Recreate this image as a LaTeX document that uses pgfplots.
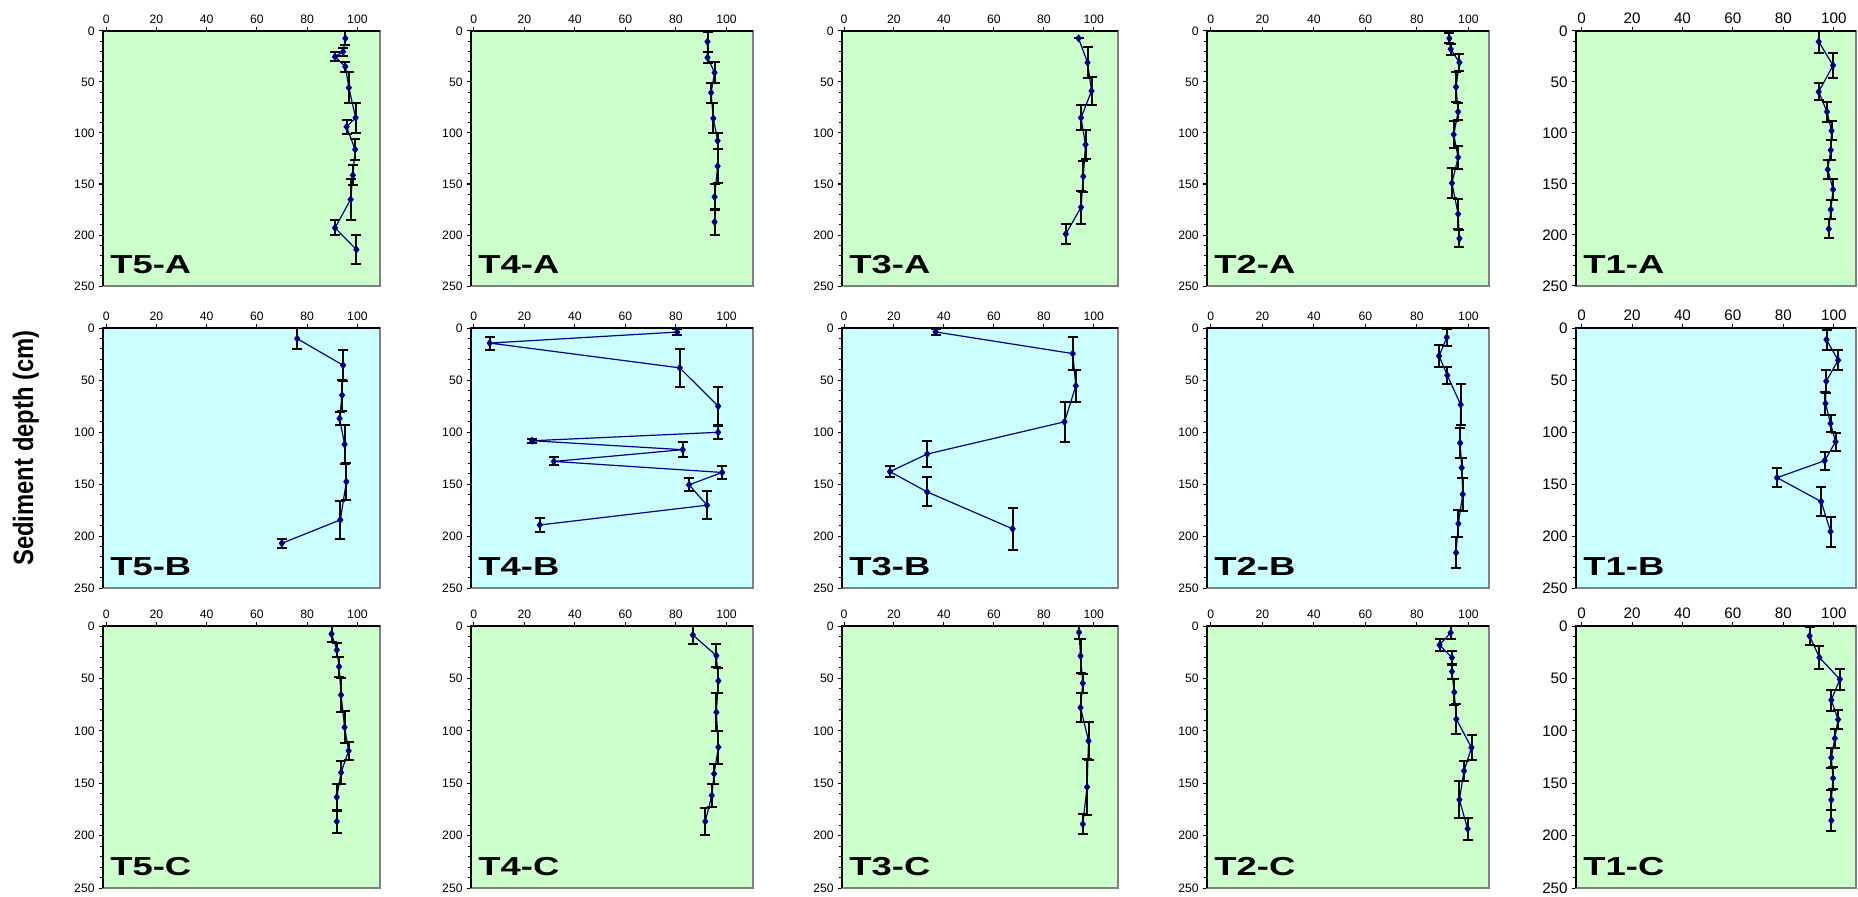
\documentclass[border=0pt]{standalone}
\usepackage{fontspec}
\setmainfont{Liberation Sans}
\usepackage{pgfplots}
\usepackage{pgfplotstable}
\pgfplotsset{compat=1.18}
\definecolor{pgreen}{HTML}{CCFFCC}
\definecolor{pcyan}{HTML}{CCFFFF}
\definecolor{navy}{HTML}{000080}

\pgfplotstableread{
x y e
95.2 7.2 7
94.3 20.3 4
91.1 25.2 4.5
95.2 35 5
96.6 55.6 15
99.3 85 14.7
95.7 93.9 7
99.1 116.2 10
98.2 141.4 10
97.3 165.2 20
91.1 193 7.4
99.6 214.3 14
}\TfiveA
\pgfplotstableread{
x y e
92.5 10.5 10
92.5 25.9 5.7
95.3 40.9 10.2
93.9 60.5 9.8
94.8 85.7 14.7
96.5 107.7 7.7
96.5 132.5 17
95.3 162.6 12.4
95.3 187.2 12.6
}\TfourA
\pgfplotstableread{
x y e
93.9 7.2 0
97.5 30.9 15.6
99.1 58.8 13.6
94.9 85.1 12.3
96.7 111.4 14
95.8 142.6 15
94.9 172.8 16
88.8 199 10
}\TthreeA
\pgfplotstableread{
x y e
92.6 7.2 5
93.1 17.7 5.4
96.5 30.9 8.7
95.2 54.9 15
96.0 79.2 8.5
94.3 101.5 12.8
96.0 123.9 11
93.6 149.1 15
96.0 179.4 14.8
96.5 203.4 8.7
}\TtwoA
\pgfplotstableread{
x y e
94 10.5 10.6
99.7 33.7 12.2
94 59.6 8.5
97.3 79.2 9.8
99.1 97.8 9.5
98.8 116.8 10
97.6 135.8 9
99.7 155.4 10.3
98.8 175 9.8
98 194 9.3
}\ToneA
\pgfplotstableread{
x y e
76 10.2 10
94.3 35.8 15
93.9 64.6 15
92.9 87 6
94.9 111.9 18.5
95.6 147.7 18
93.2 184.5 18
69.9 207 4.5
}\TfiveB
\pgfplotstableread{
x y e
80.5 3.9 3
6.3 14.5 6.3
81.5 38.3 18.5
96.7 75.2 18.5
96.7 100.3 6
23.1 108.4 2
82.7 117 7.3
31.7 128.3 3.8
98.3 138.9 6
85.2 150.8 6.3
92.3 170.4 13.3
26.1 189.4 7
}\TfourB
\pgfplotstableread{
x y e
36.7 3.8 3.2
91.6 24.6 15.5
92.8 55.6 15.6
88.3 90.2 19.2
33.3 121.2 12.5
18.4 138.1 5
33.3 157.6 14
67.5 193.1 20.3
}\TthreeB
\pgfplotstableread{
x y e
91.6 9 8
88.6 26.9 10.4
91.8 45.5 8.3
97.0 73.7 19.7
96.8 110.6 14
97.4 134.3 9.6
97.8 159.9 15.7
96.1 188.1 13
95.2 216 15.2
}\TtwoB
\pgfplotstableread{
x y e
97.1 11.2 9.6
101.7 31 9.6
97 51.2 10.9
96.7 72.6 11.5
98.7 91.8 8
100.7 109.3 8.8
96.4 127.6 8.5
77.5 143.9 9.1
95 166.9 13.9
98.7 195.7 14.4
}\ToneB
\pgfplotstableread{
x y e
89.7 7.6 8
91.8 22.9 6.8
92.7 38.8 9.5
93.5 65.8 16
94.9 96.6 15.4
96.5 119.1 8.8
93.5 139.8 10.6
91.8 163.3 12.8
91.8 186.5 11
}\TfiveC
\pgfplotstableread{
x y e
86.7 8.6 9
96 28.3 10.8
96.8 52.4 11.9
96 82.3 18.3
96.8 115.6 15.7
95.1 141 9.5
94.2 161.7 11.3
91.6 186.5 12.6
}\TfourC
\pgfplotstableread{
x y e
94.1 6 6
94.7 28.6 16.4
95.6 54.6 9.2
94.7 77.8 13.5
97.9 109.6 18.1
97.3 153.7 26.7
95.6 189 9.6
}\TthreeC
\pgfplotstableread{
x y e
93.1 6.4 6.2
88.8 18.1 6
93.6 30.2 6.3
93.6 43.5 6.6
94.5 63.2 12.4
95.3 88.9 14.3
101.2 116 12.2
98.3 138.2 9.5
96.5 165.8 17.6
99.7 193.5 10.6
}\TtwoC
\pgfplotstableread{
x y e
90.4 9.5 8.7
94.3 30.1 10.8
102.4 50.8 9.8
99 70.7 10
101.7 89.2 8.6
100.4 107.2 8.9
99 125.6 9.5
99.7 145.3 10.3
99 165.9 9.5
99 185.6 10.3
}\ToneC

\pgfplotsset{
  panel/.style={
    scale only axis, anchor=north west,
    ymin=0, ymax=250, y dir=reverse,
    xtick={0,20,40,60,80,100},
    ytick={0,50,100,150,200,250},
    minor ytick={10,20,30,40,60,70,80,90,110,120,130,140,160,170,180,190,210,220,230,240},
    tick align=outside,
    xtick pos=upper, xticklabel pos=upper,
    ytick pos=left, yticklabel pos=left,
    major tick length=2pt, minor tick length=1.3pt,
    tick style={black, line width=0.5pt},
    axis line style={draw=gray, line width=0.6pt},
    /pgf/number format/assume math mode=true,
    tick label style={font=\fontsize{6.1}{6.5}\selectfont},
    xticklabel style={inner sep=1.5pt},
    yticklabel style={inner sep=2pt},
    after end axis/.code={\draw[line width=1.1pt, black] (axis description cs:0,0) -- (axis description cs:0,1) -- (axis description cs:1,1);},
  },
  bigticks/.style={tick label style={font=\fontsize{7.6}{8}\selectfont}},
}

\newcommand{\panel}[9]{%
\begin{axis}[panel, at={(#1pt,#2pt)}, width=#3pt, height=#4pt,
  axis background/.style={fill=#5}, #8, #9]
\addplot[navy, line width=0.6pt, mark=diamond*, mark size=1.6pt,
  mark options={fill=navy, draw=navy},
  error bars/.cd, y dir=both, y explicit,
  error bar style={black, line width=1pt},
  error mark options={black, line width=1pt, mark size=2.5pt, rotate=90}]
  table[x=x, y=y, y error=e] {#7};
\node[anchor=base west, inner sep=0pt, font=\bfseries\fontsize{13}{13}\selectfont]
  at (axis description cs:0,0) [xshift=3.5pt, yshift=6.3pt] {\scalebox{1.4}[1]{#6}};
\end{axis}}

\begin{document}
\begin{tikzpicture}
\useasboundingbox (0,0) rectangle (929pt,448pt);
% row 1
\panel{51.5}{432.5}{138.5}{127.5}{pgreen}{T5-A}{\TfiveA}{xmin=-1.3,xmax=109}{}
\panel{235.5}{432.5}{141}{127.5}{pgreen}{T4-A}{\TfourA}{xmin=-1.1,xmax=110.5}{}
\panel{421}{432.5}{138}{127.5}{pgreen}{T3-A}{\TthreeA}{xmin=-0.8,xmax=109.7}{}
\panel{603.5}{432.5}{141}{127.5}{pgreen}{T2-A}{\TtwoA}{xmin=-1.5,xmax=108}{}
\panel{788}{432.5}{140}{127.5}{pgreen}{T1-A}{\ToneA}{xmin=-2.2,xmax=108.8}{bigticks}
% row 2
\panel{51.5}{284}{138.5}{130}{pcyan}{T5-B}{\TfiveB}{xmin=-1.3,xmax=109}{}
\panel{235.5}{284}{141}{130}{pcyan}{T4-B}{\TfourB}{xmin=-1.1,xmax=110.5}{}
\panel{421}{284}{138}{130}{pcyan}{T3-B}{\TthreeB}{xmin=-0.8,xmax=109.7}{}
\panel{603.5}{284}{141}{130}{pcyan}{T2-B}{\TtwoB}{xmin=-1.5,xmax=108}{}
\panel{788}{284}{140}{130}{pcyan}{T1-B}{\ToneB}{xmin=-2.2,xmax=108.8}{bigticks}
% row 3
\panel{51.5}{135}{138.5}{131}{pgreen}{T5-C}{\TfiveC}{xmin=-1.3,xmax=109}{}
\panel{235.5}{135}{141}{131}{pgreen}{T4-C}{\TfourC}{xmin=-1.1,xmax=110.5}{}
\panel{421}{135}{138}{131}{pgreen}{T3-C}{\TthreeC}{xmin=-0.8,xmax=109.7}{}
\panel{603.5}{135}{141}{131}{pgreen}{T2-C}{\TtwoC}{xmin=-1.5,xmax=108}{}
\panel{788}{135}{140}{131}{pgreen}{T1-C}{\ToneC}{xmin=-2.2,xmax=108.8}{bigticks}
\node[rotate=90, inner sep=0pt, font=\bfseries\fontsize{14}{14}\selectfont] at (13pt,224pt) {\scalebox{0.85}[1]{Sediment depth (cm)}};
\end{tikzpicture}
\end{document}
